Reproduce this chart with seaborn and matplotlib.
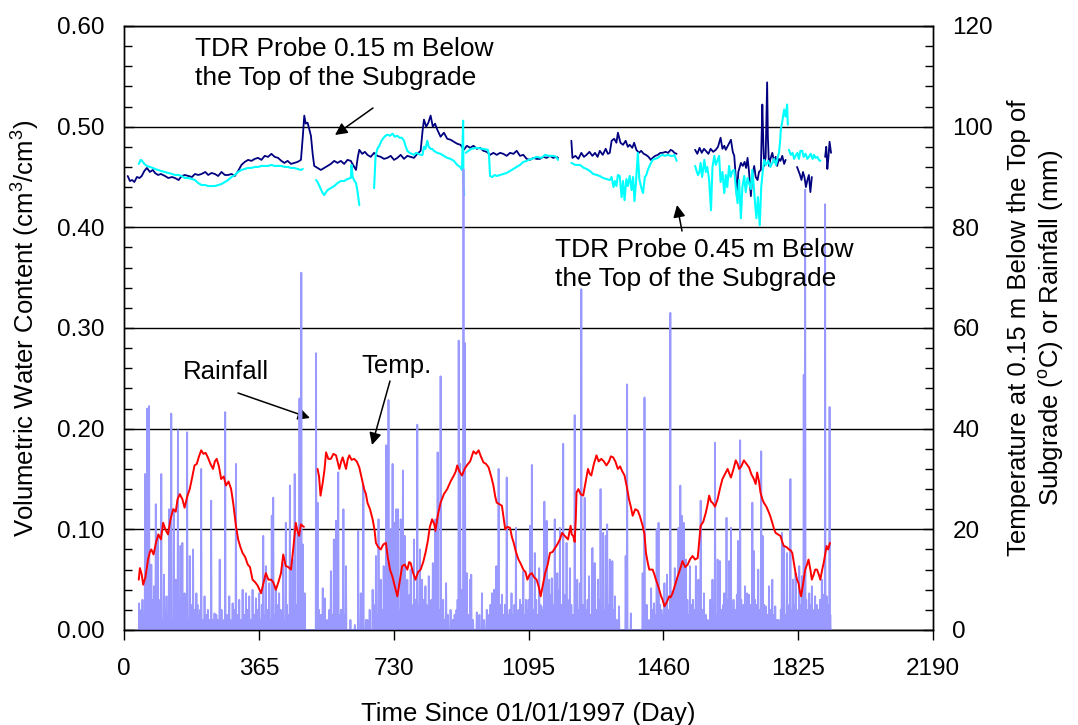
import numpy as np
import pandas as pd
import matplotlib
matplotlib.use("Agg")
import matplotlib.pyplot as plt
from matplotlib.ticker import MultipleLocator, FormatStrFormatter
import seaborn as sns

nan = np.nan

# ---------------- data ----------------
# TDR probe 0.15 m below top of subgrade (volumetric water content)
navy_day = [10, 16, 22, 28, 35, 42, 48, 55, 62, 70, 78, 84, 92, 100, 111, 120, 130, 138, 148, 156,
            165, 174, 184, 192, 201, 210, 220, 228, 237, 246, 255, 264, 273, 282, 291, 300, 309, 318,
            327, 336, 345, 354, 363, 372, 381, 390, 399, 408, 417, 426, 434, 443, 452, 461, 470, 479,
            484, 488, 492, 497, 502, 506, 511, 515, 524, 533, 542, 551, 560, 569, 578, 587, 596, 605,
            614, 620, 628, 633, 637, 645, 652, 659, 668, 677, 686, 695, 704, 713, 722, 731, 740, 749,
            758, 767, 776, 785, 794, 803, 808, 812, 818, 824, 830, 836, 842, 848, 857, 866, 875, 884,
            893, 902, 911, 920, 928, 937, 946, 955, 964, 973, 982, 991, 1000, 1009, 1018, 1027, 1036,
            1045, 1054, 1063, 1072, 1081, 1090, 1099, 1108, 1117, 1126, 1135, 1144, 1153, 1162, 1171,
            1175, nan,
            1211, 1214, 1222, 1230, 1238, 1245, 1252, 1260, 1268, 1275, 1282, 1288, 1296, 1304, 1310,
            1315, 1320, 1327, 1333, 1337, 1344, 1351, 1358, 1364, 1369, 1376, 1381, 1387, 1394, 1400,
            1407, 1413, 1420, 1426, 1431, 1438, 1445, 1452, 1458, 1466, 1473, 1480, 1485, 1490, 1496, nan,
            1546, 1552, 1558, 1564, 1570, 1575, 1582, 1588, 1595, 1602, 1608, 1615, 1620, 1625, 1629,
            1636, 1643, 1648, 1652, 1656, 1659, 1663, 1670, 1675, 1680, 1684, 1688, 1692, 1697, 1701,
            1706, 1710, 1715, 1719, 1724, 1726, 1728, 1731, 1733, 1737, 1741, 1743, 1746, 1750, 1755,
            1760, 1764, 1768, 1773, 1777, 1782, 1787, 1791, nan,
            1822, 1826, 1830, 1834, 1838, 1842, 1846, 1850, 1854, 1858, 1862, nan,
            1898, 1901, 1904, 1907, 1910, 1914]
navy_vwc = [.451, .446, .447, .445, .450, .449, .451, .456, .459, .455, .457, .454, .452, .453, .451, .449,
            .450, .449, .447, .451, .452, .451, .450, .453, .452, .453, .455, .452, .454, .453, .451, .455,
            .452, .452, .453, .451, .456, .462, .465, .467, .466, .468, .469, .467, .471, .470, .473, .470,
            .469, .466, .464, .466, .463, .464, .465, .467, .490, .511, .503, .504, .497, .491, .472, .461,
            .459, .457, .459, .461, .463, .466, .464, .466, .463, .467, .466, .462, .457, .470, .477, .473,
            .475, .472, .470, .474, .471, .470, .468, .469, .471, .467, .469, .472, .468, .471, .470, .469,
            .473, .476, .495, .507, .500, .504, .511, .500, .503, .497, .490, .494, .488, .487, .485, .483,
            .482, .477, .481, .479, .481, .478, .479, .476, .475, .472, .474, .472, .474, .473, .471, .474,
            .473, .476, .471, .472, .468, .467, .469, .468, .468, .470, .469, .471, .469, .470, .469, nan,
            .486, .469, .471, .468, .474, .470, .472, .475, .471, .474, .470, .476, .472, .478, .473, .474,
            .486, .488, .484, .494, .484, .482, .486, .480, .482, .479, .484, .477, .474, .476, .473, .472,
            .470, .467, .469, .471, .472, .474, .474, .475, .474, .477, .476, .474, .473, nan,
            .477, .473, .479, .474, .478, .476, .473, .478, .475, .477, .480, .489, .478, .481, .477, .482,
            .487, .475, .471, .450, .431, .455, .464, .461, .465, .459, .469, .455, .431, .452, .461, .450,
            .447, .455, .457, .490, .522, .480, .461, .470, .544, .490, .461, .468, .474, .465, .470, .461,
            .468, .466, .471, .463, .467, nan,
            .460, .456, .452, .447, .455, .450, .440, .447, .452, .435, .450, nan,
            .470, .480, .458, .470, .485, .474]

# TDR probe 0.45 m below top of subgrade
cyan_day = [40, 45, 49, 55, 62, 70, 78, 84, 92, 100, 110, 120, 130, 138, 147, 156, 165, 174, 184, 192,
            201, 210, 220, 228, 237, 246, 255, 264, 273, 282, 291, 300, 309, 318, 327, 336, 345, 354,
            363, 372, 381, 390, 399, 408, 417, 426, 435, 443, 452, 461, 470, 479, 484, nan,
            520, 524, 529, 534, 538, 542, 547, 551, 560, 569, 578, 587, 596, 605, 614, 616, 619, 624,
            628, 632, 637, nan,
            677, 681, 686, 691, 697, 703, 708, 713, 720, 727, 733, 740, 746, 752, 758, 762, 767, 773,
            779, 785, 791, 797, 803, 808, 812, 816, 821, 825, 830, 834, 839, 848, 857, 866, 875, 884,
            893, 902, 910, 915, 918, 919, 921, nan,
            925, 940, 955, 970, 985, 988, 991, 997, 1003, 1009, 1018, 1027, 1036, 1045, 1054, 1063, 1072,
            1081, 1090, 1095, 1104, 1117, 1130, 1140, 1150, 1162, 1170, 1175, nan,
            1211, 1222, 1234, 1245, 1252, 1261, 1270, 1280, 1288, 1297, 1306, 1315, 1320, 1325, 1329,
            1333, 1337, 1342, 1347, 1351, 1355, 1360, 1364, 1369, 1374, 1378, 1382, 1386, 1391, 1395,
            1400, 1405, 1410, 1414, 1418, 1424, 1431, 1438, 1445, 1452, 1458, 1465, 1472, 1480, 1486,
            1490, 1496, nan,
            1546, 1550, 1554, 1557, 1561, 1565, 1571, 1575, 1579, 1584, 1589, 1593, 1598, 1602, 1606,
            1611, 1615, 1620, 1625, 1629, 1633, 1638, 1642, 1647, 1652, 1656, 1661, 1665, 1670, 1674,
            1679, 1683, 1688, 1692, 1697, 1701, 1705, 1708, 1712, 1716, 1721, 1725, 1729, 1733, 1738,
            1744, 1750, 1755, 1760, 1765, 1770, 1773, 1776, 1778, 1782, 1787, 1791, 1795, 1797, nan,
            1800, 1805, 1810, 1814, 1818, 1823, 1827, 1831, 1836, 1840, 1845, 1850, 1854, 1859, 1864,
            1868, 1872, 1877, 1881, 1885]
cyan_vwc = [.463, .467, .466, .463, .461, .460, .459, .458, .457, .456, .455, .454, .453, .452, .452, .451,
            .449, .449, .448, .447, .444, .442, .442, .441, .441, .441, .442, .443, .445, .447, .450, .452,
            .455, .457, .458, .459, .459, .460, .460, .461, .461, .461, .462, .461, .461, .461, .460, .460,
            .459, .459, .458, .457, .458, nan,
            .447, .445, .441, .437, .434, .432, .435, .437, .439, .441, .444, .446, .446, .448, .449, .462,
            .450, .446, .444, .436, .422, nan,
            .439, .471, .478, .481, .486, .489, .491, .492, .491, .493, .490, .491, .489, .489, .486, .481,
            .476, .474, .473, .472, .474, .473, .472, .472, .480, .478, .486, .480, .478, .478, .476, .474,
            .473, .471, .469, .468, .466, .462, .460, .457, .506, .440, .432, nan,
            .474, .478, .479, .478, .477, .472, .451, .450, .452, .451, .452, .453, .454, .456, .458, .460,
            .462, .465, .466, .467, .468, .470, .469, .472, .471, .471, .470, .467, nan,
            .464, .462, .462, .459, .458, .456, .453, .452, .451, .449, .448, .447, .450, .440, .446, .441,
            .452, .451, .430, .446, .427, .448, .441, .451, .437, .450, .426, .445, .474, .448, .440, .434,
            .450, .452, .457, .462, .467, .468, .469, .471, .472, .471, .472, .471, .471, .472, .466, nan,
            .461, .456, .452, .454, .464, .450, .467, .455, .460, .447, .417, .460, .471, .462, .466, .471,
            .445, .455, .434, .452, .440, .461, .450, .456, .457, .440, .424, .447, .409, .440, .451, .435,
            .449, .444, .438, .457, .440, .425, .409, .430, .402, .440, .455, .467, .462, .466, .460, .464,
            .468, .462, .470, .474, .485, .497, .505, .517, .510, .522, .502, nan,
            .477, .472, .474, .468, .471, .474, .468, .476, .476, .470, .473, .468, .470, .473, .468, .472,
            .469, .470, .467, .466]

# Temperature at 0.15 m below top of subgrade (deg C)
temp_day = [40, 43, 48, 52, 58, 65, 70, 74, 80, 87, 93, 100, 106, 112, 119, 126, 133, 140, 145, 151,
            158, 164, 171, 178, 185, 191, 197, 203, 209, 215, 221, 227, 234, 241, 246, 251, 257, 263,
            270, 276, 283, 290, 296, 303, 309, 315, 321, 328, 335, 341, 348, 355, 362, 371, 378, 384,
            391, 398, 404, 411, 418, 425, 431, 438, 445, 452, 458, 465, 470, 474, 479, 483, 487, nan,
            524, 528, 532, 538, 543, 547, 553, 560, 567, 574, 578, 583, 588, 592, 597, 601, 606, 610,
            616, 623, 630, 637, 644, 650, 655, 659, 666, 673, 678, 682, 688, 695, 702, 709, 714, 720,
            727, 733, 740, 746, 753, 760, 767, 772, 776, 782, 789, 796, 803, 810, 816, 822, 828, 834,
            840, 843, 850, 857, 866, 875, 884, 893, 898, 902, 908, 915, 922, 928, 937, 946, 953, 960,
            966, 973, 980, 987, 994, 1000, 1005, 1009, 1016, 1023, 1028, 1032, 1038, 1045, 1050, 1055,
            1061, 1068, 1075, 1081, 1087, 1092, 1098, 1104, 1110, 1117, 1123, 1128, 1134, 1140, 1147,
            1153, 1160, 1167, 1173, 1180, 1186, 1193, 1202, 1209, 1212, 1216, 1220, 1223, 1225, 1230,
            1236, 1243, 1250, 1256, 1261, 1265, 1272, 1279, 1285, 1292, 1299, 1306, 1313, 1318, 1324,
            1330, 1337, 1343, 1349, 1355, 1361, 1367, 1372, 1377, 1384, 1391, 1397, 1404, 1409, 1413,
            1418, 1422, 1431, 1436, 1440, 1447, 1454, 1458, 1463, 1469, 1476, 1480, 1485, 1492, 1499,
            1505, 1512, 1519, 1526, 1532, 1539, 1546, 1553, 1557, 1561, 1568, 1575, 1580, 1584, 1589,
            1593, 1600, 1607, 1613, 1620, 1627, 1634, 1639, 1643, 1650, 1656, 1661, 1665, 1671, 1678,
            1685, 1692, 1698, 1705, 1710, 1714, 1719, 1723, 1728, 1732, 1739, 1746, 1750, 1755, 1760,
            1764, 1770, 1777, 1782, 1786, 1793, 1800, 1805, 1809, 1814, 1818, 1822, 1826, 1830, 1833,
            1838, 1844, 1849, 1853, 1858, 1862, 1867, 1871, 1876, 1881, 1885, 1890, 1894, 1898, 1902,
            1906, 1911]
temp_c = [10, 12.3, 11, 9, 10.5, 14, 15.5, 16, 15, 17.5, 19, 18, 21.3, 20, 19, 22, 24, 23.5, 26, 27,
          26, 24.3, 26.5, 28, 30.5, 32.7, 33, 34.5, 35.7, 35, 35.2, 34.3, 33, 32, 33.5, 34, 32.5, 30,
          30.5, 28.7, 29.5, 28, 25, 20.7, 18, 16.5, 15.3, 14.5, 13, 12.5, 10, 9.5, 8.8, 7.3, 9.5, 11.3,
          10, 10, 9.5, 8, 9.5, 11.3, 15, 12.7, 12.5, 12, 16, 21.3, 19.5, 18.7, 21, 20.7, 20.5, nan,
          32, 30.5, 26.7, 29.3, 32, 35.3, 34, 34, 35, 34.7, 33.5, 32, 33.5, 34.3, 33, 32, 34, 34.7,
          33.8, 34, 33.5, 32.3, 30, 28, 27, 25.3, 24, 22, 20, 17.3, 16.5, 16, 17, 17.3, 14.5, 12,
          10.5, 8.7, 6.7, 9.5, 12.7, 13, 12, 13.5, 13.3, 11.5, 10, 11.5, 12, 13.5, 15.3, 17.5, 20.5, 22,
          21, 19.7, 23, 25.3, 27, 28, 29.5, 30.7, 31.5, 32.7, 31.5, 30.7, 32, 32.7, 33.5, 35.5, 35, 35.7,
          34.5, 33.3, 33, 32.3, 30.5, 28.7, 26.5, 25.3, 25, 24.7, 22, 20, 20.5, 20.3, 18.5, 17.3,
          15.5, 14, 13, 12, 11.5, 10, 11, 11.3, 10.5, 10, 8.5, 6.7, 9, 11.3, 13,
          15.3, 15.5, 16.3, 17, 18, 19.3, 18.7, 18, 20.7, 19, 18.7, 17.5, 22, 27.3, 28,
          27, 26.7, 29.5, 32, 31, 30.7, 33, 34.7, 33.5, 34, 33.5, 32.7, 33.5, 34.5, 34.3,
          33.5, 32, 32.5, 31.5, 30.7, 28.5, 26, 24.5, 22.7, 24, 23.7, 22.5, 20.7, 19, 15.3,
          13.3, 12, 12, 11, 10, 8.5, 6.7, 6, 4.7, 5.5, 6.7, 6.5, 7.3, 9, 10.7,
          12, 13.7, 12.5, 13, 14, 14.7, 14, 14.3, 17.5, 20.7, 21.5, 23.3, 25, 26.7, 25.5,
          25.3, 24.5, 26, 28, 30, 31, 32, 31, 30.3, 32, 33.7, 33, 32, 32.5, 33.7,
          33, 32.3, 31, 30, 29, 31.3, 29.5, 27.3, 26, 25.3, 24.5, 23.3, 22.5, 21.3, 20,
          19.3, 19, 18.7, 17.5, 16.7, 16.5, 16, 15.8, 15.3, 13, 11.3, 10, 9.3, 7.5, 6.7,
          9, 12, 13, 14, 12, 10, 11, 12, 12, 11, 10, 12, 13.3, 15, 16.7,
          16, 17.3]

# Daily rainfall (mm): larger events
rain_day = [41, 50, 57, 63, 68, 74, 81, 86, 92, 101, 108, 115, 122, 128, 135, 140, 146, 153, 158, 164,
            171, 178, 187, 196, 209, 218, 227, 236, 245, 259, 274, 285, 294, 303, 312, 321, 330, 339,
            348, 357, 366, 377, 384, 393, 400, 404, 411, 420, 431, 438, 449, 456, 462, 470, 475, 480,
            484, 489,
            520, 524, 533, 538, 544, 560, 568, 574, 580, 587, 594, 601, 634, 641, 648, 659, 673, 682,
            689, 695, 703, 710, 716, 722, 727, 733, 737, 742, 749, 755, 760, 767, 776, 785, 794, 801,
            807, 816, 825, 836, 843, 849, 857, 864, 872, 884, 895, 906, 910, 919, 923, 928, 937,
            940, 955, 969, 996, 1002, 1008, 1014, 1023, 1036, 1049, 1061, 1072, 1081, 1088, 1099, 1104,
            1112, 1124, 1130, 1138, 1144, 1151, 1158, 1166, 1173, 1180, 1189, 1198, 1207, 1220, 1227,
            1234, 1238, 1247, 1259, 1268, 1274, 1283, 1290, 1297, 1304, 1308, 1315, 1322, 1329, 1340,
            1358, 1362, 1372, 1404, 1409,
            1415, 1427, 1435, 1442, 1447, 1455, 1463, 1470, 1479, 1485, 1491, 1497, 1501, 1506, 1510,
            1515, 1521, 1532, 1540, 1548, 1555, 1561, 1570, 1580, 1587, 1593, 1600, 1607, 1613, 1620,
            1625, 1631, 1638, 1643, 1652, 1662, 1668, 1674, 1681, 1687, 1692, 1701, 1705, 1710, 1717,
            1725, 1729, 1737, 1746, 1755, 1763, 1772, 1781, 1787, 1795, 1804, 1811, 1818, 1828, 1835,
            1840, 1844, 1850, 1855, 1862, 1871, 1880, 1889, 1898, 1902, 1910]
rain_mm = [5.3, 6, 31, 44, 44.5, 13, 8.7, 25, 18.7, 31, 11, 6.7, 24, 43, 24, 10, 39.7, 16.7, 17.3, 7.3,
           39.3, 14.7, 16, 7.3, 32, 6.7, 4, 25.7, 3.3, 14, 43.3, 6.7, 5.3, 33, 6, 8, 7.3, 6.7,
           8, 6.3, 7.3, 18.7, 12.7, 9.3, 22.7, 26.3, 8.7, 7.3, 13.3, 21.3, 28.7, 14, 31, 19.3, 46, 71,
           17, 7.3,
           55, 25.3, 3, 8.3, 6.3, 11.7, 18, 21.7, 31.3, 4, 24, 12.7, 19.7, 7.3, 28.7, 2, 8, 14.7,
           22, 10, 12.7, 36.7, 45.7, 20, 33, 21.3, 24, 24, 22, 31.7, 18.7, 10, 12, 18, 40.8, 16,
           10, 8.7, 10.7, 13.3, 22, 35.3, 50.4, 6, 9.3, 4, 3, 57.5, 33, 91.5, 57, 11.3, 10,
           11, 3.5, 7.3, 7.3, 8, 12.7, 32, 7, 30.3, 7.3, 20.3, 6, 11.7, 6, 20.7, 32.8,
           15.3, 12.3, 4.7, 25.5, 21.7, 10, 10.3, 22, 11.3, 20.3, 37, 17.3, 12.3, 42.7, 10,
           9.3, 67.7, 26.3, 10.7, 16.3, 13.3, 10, 28, 19.3, 18.7, 21, 14, 13.7, 6.7, 4.7,
           14.7, 48.8, 3.3, 11.3, 46.2,
           5, 8.3, 5.3, 20, 21.3, 4, 9.3, 11, 63, 7.7, 12.3, 10, 20.3, 28.7, 22.7,
           21.3, 14, 12.7, 6, 12.7, 10, 25.7, 7.3, 2, 6, 10, 37.2, 14, 13.7, 3.3,
           7.3, 22.3, 13.7, 20.3, 3.3, 17.7, 37.7, 4, 8.7, 7.3, 7, 25.3, 15.7, 4, 12,
           35.5, 18.7, 4.7, 8.7, 10, 4.7, 2, 19.3, 16.7, 15.3, 30, 10, 11.3, 12.7, 10.7,
           50.7, 87.5, 4, 7.3, 8.7, 6.7, 4, 10, 84.6, 6.7, 44.3]

# Daily rainfall (mm): small events
small_day = [44, 47, 53, 60, 66, 71, 77, 83, 89, 95, 98, 104, 111, 118, 125, 131, 137, 143, 149, 155,
             161, 167, 174, 181, 184, 190, 193, 199, 203, 206, 213, 222, 231, 240, 250, 255, 264, 268,
             279, 288, 298, 306, 316, 325, 334, 343, 352, 361, 369, 373, 380, 388, 396, 407, 414, 417,
             424, 428, 434, 441, 445, 452, 459, 466, 473, 478, 486,
             528, 541, 550, 556, 564, 571, 577, 584, 591, 597, 613, 625, 645, 655, 665, 676, 685, 692,
             699, 706, 713, 719, 725, 730, 735, 740, 745, 752, 758, 763, 770, 773, 779, 782, 788, 791,
             798, 804, 810, 813, 819, 822, 828, 832, 839, 846, 853, 860, 868, 877, 890, 900, 903, 913,
             916, 926, 932,
             945, 962, 975, 982, 988, 992, 1005, 1011, 1018, 1027, 1031, 1040, 1044, 1053, 1057, 1065,
             1068, 1076, 1084, 1092, 1095, 1101, 1108, 1116, 1120, 1127, 1134, 1141, 1148, 1154, 1162,
             1169, 1176, 1184, 1186, 1192, 1195, 1201, 1204, 1211, 1216, 1224, 1231, 1243, 1251, 1255,
             1263, 1271, 1278, 1286, 1293, 1300, 1311, 1318, 1325, 1334,
             1412, 1421, 1431, 1438, 1451, 1459, 1466, 1474, 1482, 1488, 1494, 1504, 1513, 1518, 1525,
             1528, 1536, 1544, 1551, 1558, 1565, 1575, 1590, 1597, 1604, 1610, 1617, 1622, 1628, 1635,
             1641, 1646, 1650, 1656, 1659, 1665, 1671, 1677, 1684, 1690, 1696, 1699, 1708, 1713, 1720,
             1733, 1741, 1750, 1759, 1768, 1778, 1784, 1791, 1798, 1801, 1807, 1814, 1822, 1825, 1832,
             1838, 1847, 1853, 1858, 1865, 1868, 1875, 1878, 1884, 1886, 1892, 1895, 1905, 1908, 1912]
small_mm = [2, 4, 3, 2, 5, 3, 6, 2, 4, 3, 6, 2, 4, 3, 5, 2, 3, 4, 6, 2,
            3, 4, 2, 5, 3, 4, 2, 5, 3, 4, 2, 3, 2, 2, 3, 2, 4, 2,
            3, 2, 4, 3, 2, 3, 4, 2, 3, 4, 2, 5, 3, 4, 2, 3, 5, 2,
            4, 3, 2, 5, 3, 6, 4, 5, 3, 8, 5,
            4, 3, 2, 4, 3, 5, 2, 3, 4, 3, 2, 1, 3, 2, 4, 5, 3, 6,
            4, 5, 7, 4, 6, 5, 8, 6, 4, 7, 5, 6, 4, 7, 5, 3, 6, 4,
            5, 3, 6, 4, 5, 3, 4, 6, 3, 5, 4, 3, 2, 3, 2, 4, 6, 5,
            8, 4, 3,
            2, 3, 2, 4, 3, 5, 3, 4, 5, 3, 5, 3, 4, 3, 5, 3,
            4, 5, 3, 4, 6, 5, 4, 6, 3, 5, 4, 6, 5, 7, 5,
            6, 8, 5, 4, 7, 5, 6, 4, 5, 3, 6, 4, 5, 4, 6,
            3, 5, 4, 6, 5, 4, 5, 3, 4, 2,
            3, 2, 4, 3, 5, 3, 5, 4, 3, 5, 4, 6, 5, 4, 6,
            3, 5, 4, 3, 5, 4, 3, 4, 5, 3, 6, 4, 5, 4, 6,
            5, 4, 6, 4, 7, 5, 6, 5, 4, 3, 5, 4, 6, 5, 4,
            5, 3, 4, 3, 2, 4, 5, 3, 4, 5, 4, 5, 3, 4, 5,
            4, 6, 3, 5, 4, 3, 5, 2, 6, 4, 3, 7, 5, 4, 3]

x_ticks = [0, 365, 730, 1095, 1460, 1825, 2190]


# ---------------- helpers ----------------
def segmented(days, vals, name):
    df = pd.DataFrame({"day": days, name: vals})
    df["seg"] = df["day"].isna().cumsum()
    return df.dropna().reset_index(drop=True)


navy_df = segmented(navy_day, navy_vwc, "vwc")
cyan_df = segmented(cyan_day, cyan_vwc, "vwc")
temp_df = segmented(temp_day, temp_c, "temp")

rain_series = pd.Series(0.0, index=np.arange(38, 1915))
rain_series.loc[small_day] = small_mm
big = pd.Series(rain_mm, index=rain_day)
rain_series.loc[big.index] = np.maximum(rain_series.loc[big.index].values, big.values)
rain_df = pd.DataFrame({"day": rain_series.index, "mm": rain_series.values})

# ---------------- style ----------------
sns.set_theme(style="white")
plt.rcParams["font.family"] = ["Liberation Sans", "DejaVu Sans"]
plt.rcParams["mathtext.fontset"] = "custom"
plt.rcParams["mathtext.rm"] = "Liberation Sans"
plt.rcParams["mathtext.it"] = "Liberation Sans:italic"
plt.rcParams["mathtext.bf"] = "Liberation Sans:bold"
plt.rcParams["text.color"] = "black"
plt.rcParams["axes.labelcolor"] = "black"
plt.rcParams["xtick.color"] = "black"
plt.rcParams["ytick.color"] = "black"

W, H = 1078, 725
fig = plt.figure(figsize=(W / 100, H / 100), dpi=100)
ax = fig.add_axes([124 / W, 1 - 630 / H, (933 - 124) / W, (630 - 26) / H])
ax2 = ax.twinx()

# moisture (left axis)
sns.lineplot(data=navy_df, x="day", y="vwc", units="seg", estimator=None, ax=ax,
             color="#000080", lw=1.3, sort=False)
sns.lineplot(data=cyan_df, x="day", y="vwc", units="seg", estimator=None, ax=ax,
             color="#00FFFF", lw=1.5, sort=False)

# rainfall and temperature (right axis)
sns.lineplot(data=rain_df, x="day", y="mm", ax=ax2, color="#9999FF", lw=1.3,
             estimator=None, sort=False)
sns.lineplot(data=temp_df, x="day", y="temp", units="seg", estimator=None, ax=ax2,
             color="#FF0000", lw=1.4, sort=False)

# axes
ax.set_xlim(0, 2190)
ax.set_ylim(0, 0.6)
ax2.set_ylim(0, 120)
ax.set_xticks(x_ticks)
ax.yaxis.set_major_locator(MultipleLocator(0.1))
ax.yaxis.set_minor_locator(MultipleLocator(0.02))
ax.yaxis.set_major_formatter(FormatStrFormatter("%.2f"))
ax2.yaxis.set_major_locator(MultipleLocator(20))
ax2.yaxis.set_minor_locator(MultipleLocator(4))

ax.tick_params(axis="y", which="major", direction="in", length=7, width=1, labelsize=17.5,
               pad=14, colors="black", left=True)
ax.tick_params(axis="y", which="minor", direction="in", length=6, width=1, left=True)
ax.tick_params(axis="x", which="major", direction="out", length=7, width=1, labelsize=17.5,
               pad=13, colors="black", bottom=True)
ax2.tick_params(axis="y", which="major", direction="in", length=7, width=1, labelsize=17.5,
                pad=14, colors="black", right=True)
ax2.tick_params(axis="y", which="minor", direction="in", length=6, width=1, right=True)

ax.grid(False)
ax2.grid(False)
ax.yaxis.grid(True, which="major", color="black", lw=1)
for a in (ax, ax2):
    for s in a.spines.values():
        s.set_color("black")
        s.set_linewidth(1)
        s.set_visible(True)

ax.set_xlabel("Time Since 01/01/1997 (Day)", fontsize=18.5, labelpad=16, color="black")
ax.set_ylabel("Volumetric Water Content (cm$^3$/cm$^3$)", fontsize=18.5, labelpad=11,
              color="black")
ax2.set_ylabel("Temperature at 0.15 m Below the Top of\nSubgrade ($^{\\mathrm{o}}$C) or Rainfall (mm)",
               fontsize=18.5, labelpad=10, color="black", linespacing=1.25)

# annotations (figure-pixel positions)
def fx(px):
    return px / W


def fy(py):
    return 1 - py / H


fig.text(fx(195), fy(37), "TDR Probe 0.15 m Below\nthe Top of the Subgrade", fontsize=19,
         ha="left", va="top", linespacing=1.25, color="black")
fig.text(fx(555), fy(238), "TDR Probe 0.45 m Below\nthe Top of the Subgrade", fontsize=19,
         ha="left", va="top", linespacing=1.25, color="black")
fig.text(fx(183), fy(372), "Rainfall", fontsize=18.5, ha="left", va="center", color="black")
fig.text(fx(361), fy(366), "Temp.", fontsize=18.5, ha="left", va="center", color="black")

arrow_kw = dict(arrowstyle="-|>", color="black", lw=1.1, mutation_scale=18, shrinkA=0, shrinkB=0)
for tail, head in [((373, 108), (335, 135)), ((682, 231), (677, 205)),
                   ((238, 393), (310, 418)), ((390, 381), (372, 445))]:
    ax.annotate("", xy=(fx(head[0]), fy(head[1])), xytext=(fx(tail[0]), fy(tail[1])),
                xycoords="figure fraction", textcoords="figure fraction", arrowprops=arrow_kw)

fig.savefig("out.png", dpi=100, facecolor="white")
